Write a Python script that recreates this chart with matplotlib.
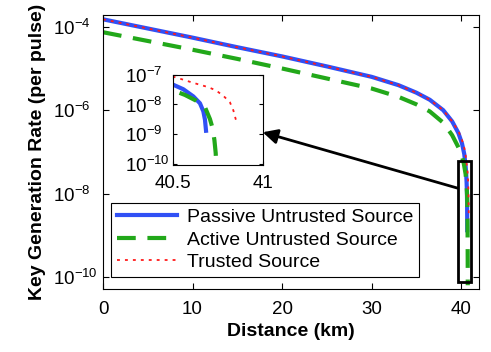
import numpy as np
import matplotlib
matplotlib.use('Agg')
import matplotlib.pyplot as plt
from matplotlib.patches import Rectangle

plt.rcParams['font.family'] = ['Liberation Sans', 'DejaVu Sans']
plt.rcParams['mathtext.fontset'] = 'custom'
plt.rcParams['mathtext.rm'] = 'Liberation Sans'
plt.rcParams['mathtext.it'] = 'Liberation Sans:italic'
plt.rcParams['mathtext.bf'] = 'Liberation Sans:bold'

# distance (km) and log10 of key rate
d_passive = [0, 5, 10, 15, 20, 25, 30, 33, 35, 36.5, 38, 39, 39.7, 40.1, 40.35,
             40.5, 40.556, 40.612, 40.649, 40.668, 40.677, 40.683]
lg_passive = [-3.82, -4.04, -4.26, -4.49, -4.71, -4.95, -5.2, -5.4, -5.58, -5.75, -6.0,
              -6.27, -6.55, -6.8, -7.05, -7.34, -7.49, -7.73, -7.96, -8.23, -8.51, -8.88]

d_active = [0, 5, 10, 15, 20, 25, 30, 33, 35, 36.5, 38, 39, 39.6, 40.0, 40.3,
            40.5, 40.565, 40.627, 40.677, 40.705, 40.72, 40.73, 40.737, 40.742]
lg_active = [-4.13, -4.34, -4.55, -4.77, -5.0, -5.24, -5.48, -5.68, -5.86, -6.03, -6.3,
             -6.6, -6.85, -7.03, -7.28, -7.53, -7.68, -7.87, -8.09, -8.49, -8.8, -9.2,
             -9.62, -10.2]

d_trusted = [0, 5, 10, 15, 20, 25, 30, 33, 35, 36.5, 38, 39, 39.7, 40.1, 40.35,
             40.5, 40.556, 40.603, 40.649, 40.696, 40.739, 40.78, 40.817, 40.836, 40.849,
             40.856]
lg_trusted = [-3.82, -4.04, -4.26, -4.49, -4.71, -4.95, -5.2, -5.4, -5.58, -5.75, -6.0,
              -6.27, -6.5, -6.72, -6.9, -7.07, -7.17, -7.26, -7.34, -7.42, -7.53, -7.71,
              -7.93, -8.2, -8.49, -8.6]

labels = ['Passive Untrusted Source', 'Active Untrusted Source', 'Trusted Source']

c_blue = '#3050f5'
c_green = '#22a81a'
c_red = '#ff1a1a'

fig = plt.figure(figsize=(4.91, 3.52), dpi=100)
ax = fig.add_axes([0.2098, 0.179, 0.7658, 0.778])

def draw(a):
    a.semilogy(d_passive, 10**np.array(lg_passive), '-', color=c_blue, lw=3, label=labels[0])
    a.semilogy(d_active, 10**np.array(lg_active), '--', color=c_green, lw=3,
               dashes=(4.5, 2.8), label=labels[1])
    a.semilogy(d_trusted, 10**np.array(lg_trusted), ':', color=c_red, lw=1.3,
               dashes=(1.6, 2.8), label=labels[2])

draw(ax)
ax.set_xlim(0, 42)
ax.set_ylim(10**-10.29, 10**-3.72)
ax.set_xticks([0, 10, 20, 30, 40])
ax.set_yticks([1e-10, 1e-8, 1e-6, 1e-4])
ax.minorticks_off()
ax.tick_params(direction='in', top=True, right=True, labelsize=13.5, length=4)
ax.tick_params(axis='x', pad=9)
ax.tick_params(axis='y', pad=36)
for t in ax.get_yticklabels():
    t.set_horizontalalignment('left')
ax.set_xlabel('Distance (km)', fontsize=14, fontweight='bold', labelpad=3)
ax.set_ylabel('Key Generation Rate (per pulse)', fontsize=14, fontweight='bold', labelpad=5)

leg = ax.legend(loc='lower left', bbox_to_anchor=(0.021, 0.044), borderaxespad=0,
                fontsize=14, fancybox=False, edgecolor='black', handlelength=3.1,
                borderpad=0.3, labelspacing=0.25, handletextpad=0.5, framealpha=1)
leg.get_frame().set_linewidth(0.8)

# zoom box and arrow
ax.add_patch(Rectangle((39.6, 10**-10.12), 1.55, 10**-7.22 - 10**-10.12,
                       fill=False, ec='black', lw=2, zorder=5))

axin = fig.add_axes([0.353, 0.531, 0.182, 0.257])
draw(axin)
axin.set_xlim(40.5, 41)
axin.set_ylim(10**-10.03, 1e-7)
axin.set_xticks([40.5, 41])
axin.set_xticklabels(['40.5', '41'])
axin.set_yticks([1e-10, 1e-9, 1e-8, 1e-7])
axin.minorticks_off()
axin.tick_params(direction='in', top=True, right=True, labelsize=13.5, length=3)
axin.tick_params(axis='x', pad=7)
axin.tick_params(axis='y', pad=35)
for t in axin.get_yticklabels():
    t.set_horizontalalignment('left')

ax.annotate('', xy=(41, 10**-8.93), xycoords=axin.transData,
            xytext=(39.6, 10**-7.87), textcoords='data',
            arrowprops=dict(arrowstyle='-|>', color='black', lw=2,
                            mutation_scale=22, shrinkA=0, shrinkB=0))

fig.savefig('out.png', dpi=100)
